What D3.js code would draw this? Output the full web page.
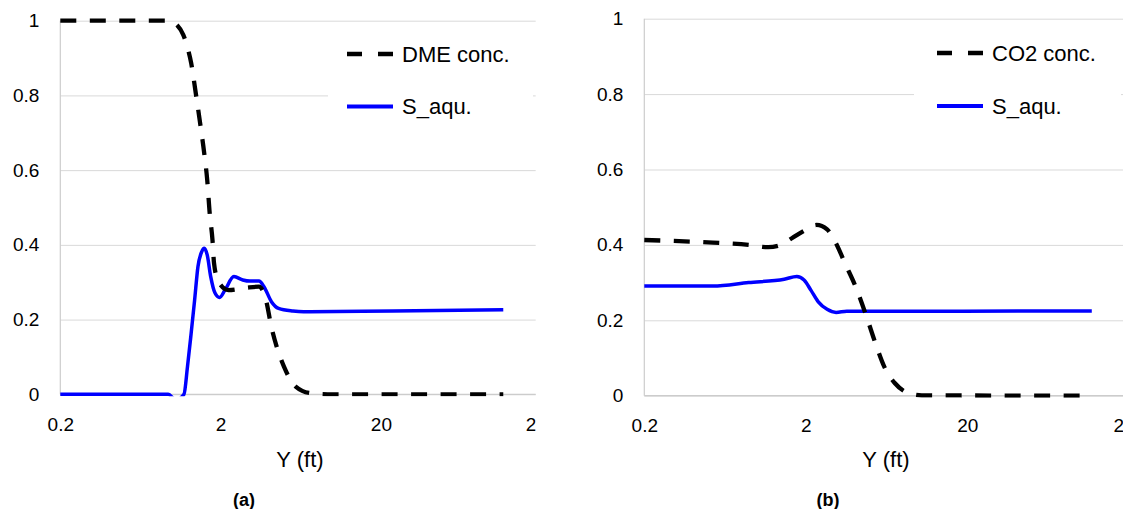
<!DOCTYPE html>
<html>
<head>
<meta charset="utf-8">
<script src="https://cdn.jsdelivr.net/npm/d3@7"></script>
<style>
  html, body { margin: 0; padding: 0; background: #fff; }
  svg { display: block; font-family: "Liberation Sans", Arial, sans-serif; }
</style>
</head>
<body>
<svg id="chart" width="1131" height="509"></svg>
<script>
// tick values shared by both panels
const xTicks = [0.2, 2, 20, 200];
const yTicks = [0, 0.2, 0.4, 0.6, 0.8, 1];

// panel (a): DME
const dmeX = [0.2, 0.95, 1.06, 1.17, 1.24, 1.31, 1.40, 1.49, 1.58, 1.65, 1.71, 1.78, 1.82, 1.94, 2.24, 2.88, 3.47, 3.84, 4.15, 4.48, 4.97, 5.91, 7.30, 10, 116];
const dmeY = [1, 1, 0.99, 0.962, 0.93, 0.887, 0.806, 0.726, 0.646, 0.574, 0.485, 0.413, 0.351, 0.301, 0.279, 0.285, 0.288, 0.252, 0.18, 0.127, 0.074, 0.02, 0.003, 0, 0];
const saqAX = [0.2, 0.94, 1.054, 1.182, 1.243, 1.31, 1.377, 1.445, 1.526, 1.582, 1.65, 1.735, 1.846, 1.972, 2.13, 2.42, 2.75, 3.05, 3.47, 3.73, 4.15, 4.60, 5.65, 6.59, 23.8, 116];
const saqAY = [0, 0, -0.015, 0, 0.074, 0.163, 0.252, 0.342, 0.382, 0.391, 0.373, 0.315, 0.271, 0.259, 0.279, 0.315, 0.306, 0.303, 0.303, 0.288, 0.248, 0.230, 0.223, 0.221, 0.223, 0.226];

// panel (b): CO2
const co2X = [0.2, 0.532, 0.885, 1.17, 1.40, 1.63, 2.00, 2.33, 2.71, 3.08, 3.50, 4.07, 4.75, 5.40, 6.12, 7.13, 8.53, 10.45, 108];
const co2Y = [0.413, 0.406, 0.400, 0.394, 0.400, 0.417, 0.440, 0.453, 0.441, 0.404, 0.351, 0.289, 0.210, 0.139, 0.077, 0.033, 0.008, 0.001, 0];
const saqBX = [0.2, 0.532, 0.885, 1.47, 1.76, 1.95, 2.15, 2.39, 2.71, 3.08, 3.59, 18.8, 118];
const saqBY = [0.291, 0.291, 0.300, 0.309, 0.316, 0.307, 0.280, 0.249, 0.229, 0.221, 0.224, 0.224, 0.225];

const svg = d3.select("#chart");
const zip = (xs, ys) => xs.map((x, i) => [x, ys[i]]);

function drawPanel(p) {
  const x = d3.scaleLog().domain([0.2, 200]).range([p.left, p.left + 3 * p.decade]);
  const y = d3.scaleLinear().domain([0, 1]).range([p.bottom, p.top]);
  const w = p.right - p.left;
  const h = p.bottom - p.top;

  svg.append("clipPath").attr("id", p.id + "-area")
    .append("rect").attr("x", 0).attr("y", 0).attr("width", p.right).attr("height", 509);
  svg.append("clipPath").attr("id", p.id + "-plot")
    .append("rect").attr("x", p.left - 3).attr("y", p.top - 4)
    .attr("width", w + 3).attr("height", h + 6);

  // y gridlines + labels
  const yAxis = svg.append("g")
    .attr("transform", "translate(" + p.left + ",0)")
    .call(d3.axisLeft(y).tickValues(yTicks).tickSize(-w).tickPadding(21).tickFormat(d3.format("")));
  yAxis.select(".domain").remove();
  yAxis.selectAll("line").attr("stroke", "#d9d9d9");
  yAxis.selectAll("text").attr("font-size", 19).attr("fill", "#000")
    .attr("font-family", "Liberation Sans, Arial, sans-serif");

  // x gridlines + labels (rightmost one gets clipped like the original)
  const xAxis = svg.append("g")
    .attr("transform", "translate(0," + p.bottom + ")")
    .attr("clip-path", "url(#" + p.id + "-area)")
    .call(d3.axisBottom(x).tickValues(xTicks).tickSize(-h).tickPadding(23).tickFormat(d3.format("")));
  xAxis.select(".domain").remove();
  xAxis.selectAll("line").attr("stroke", "#d9d9d9");
  xAxis.selectAll("text").attr("font-size", 19).attr("fill", "#000")
    .attr("font-family", "Liberation Sans, Arial, sans-serif");

  // axis lines
  svg.append("line").attr("x1", p.left).attr("x2", p.left).attr("y1", p.top).attr("y2", p.bottom)
    .attr("stroke", "#cccccc").attr("stroke-width", 1.2);
  svg.append("line").attr("x1", p.left).attr("x2", p.right).attr("y1", p.bottom).attr("y2", p.bottom)
    .attr("stroke", "#cccccc").attr("stroke-width", 1.2);

  // legend box covers the grid
  svg.append("rect").attr("x", p.legX).attr("y", 25).attr("width", p.legW).attr("height", 108).attr("fill", "#fff");

  const line = d3.line().x(d => x(d[0])).y(d => y(d[1])).curve(d3.curveMonotoneX);
  const g = svg.append("g").attr("clip-path", "url(#" + p.id + "-plot)");

  g.append("path").datum(zip(p.sx, p.sy))
    .attr("d", line).attr("fill", "none").attr("stroke", "#0000ff").attr("stroke-width", 3.5)
    .attr("stroke-linejoin", "round");
  g.append("path").datum(zip(p.cx, p.cy))
    .attr("d", line).attr("fill", "none").attr("stroke", "#000").attr("stroke-width", 4.3)
    .attr("stroke-dasharray", "16,13.5");

  // legend
  svg.append("line").attr("x1", p.legLine).attr("x2", p.legLine + 46).attr("y1", p.legY1).attr("y2", p.legY1)
    .attr("stroke", "#000").attr("stroke-width", 4.3).attr("stroke-dasharray", "15,16");
  svg.append("text").attr("x", p.legLine + 55).attr("y", p.legY1).attr("dy", "0.35em")
    .attr("font-size", 22).text(p.concName);
  svg.append("line").attr("x1", p.legLine).attr("x2", p.legLine + 46).attr("y1", p.legY2).attr("y2", p.legY2)
    .attr("stroke", "#0000ff").attr("stroke-width", 4);
  svg.append("text").attr("x", p.legLine + 55).attr("y", p.legY2).attr("dy", "0.35em")
    .attr("font-size", 22).text("S_aqu.");

  // axis title + panel tag
  svg.append("text").attr("x", p.titleX).attr("y", 467).attr("text-anchor", "middle")
    .attr("font-size", 22).text("Y (ft)");
  svg.append("text").attr("x", p.tagX).attr("y", 506).attr("text-anchor", "middle")
    .attr("font-size", 18).attr("font-weight", "bold").text(p.tag);
}

drawPanel({
  id: "pa", left: 60.3, decade: 160.3, right: 535.7, top: 20.7, bottom: 394.3,
  cx: dmeX, cy: dmeY, sx: saqAX, sy: saqAY, concName: "DME conc.",
  legX: 328, legW: 205, legLine: 347, legY1: 54, legY2: 106.5,
  titleX: 300, tagX: 244, tag: "(a)"
});

drawPanel({
  id: "pb", left: 644.3, decade: 161.5, right: 1123, top: 18.7, bottom: 395.7,
  cx: co2X, cy: co2Y, sx: saqBX, sy: saqBY, concName: "CO2 conc.",
  legX: 914, legW: 207, legLine: 937, legY1: 53, legY2: 106,
  titleX: 886, tagX: 828, tag: "(b)"
});
</script>
</body>
</html>
